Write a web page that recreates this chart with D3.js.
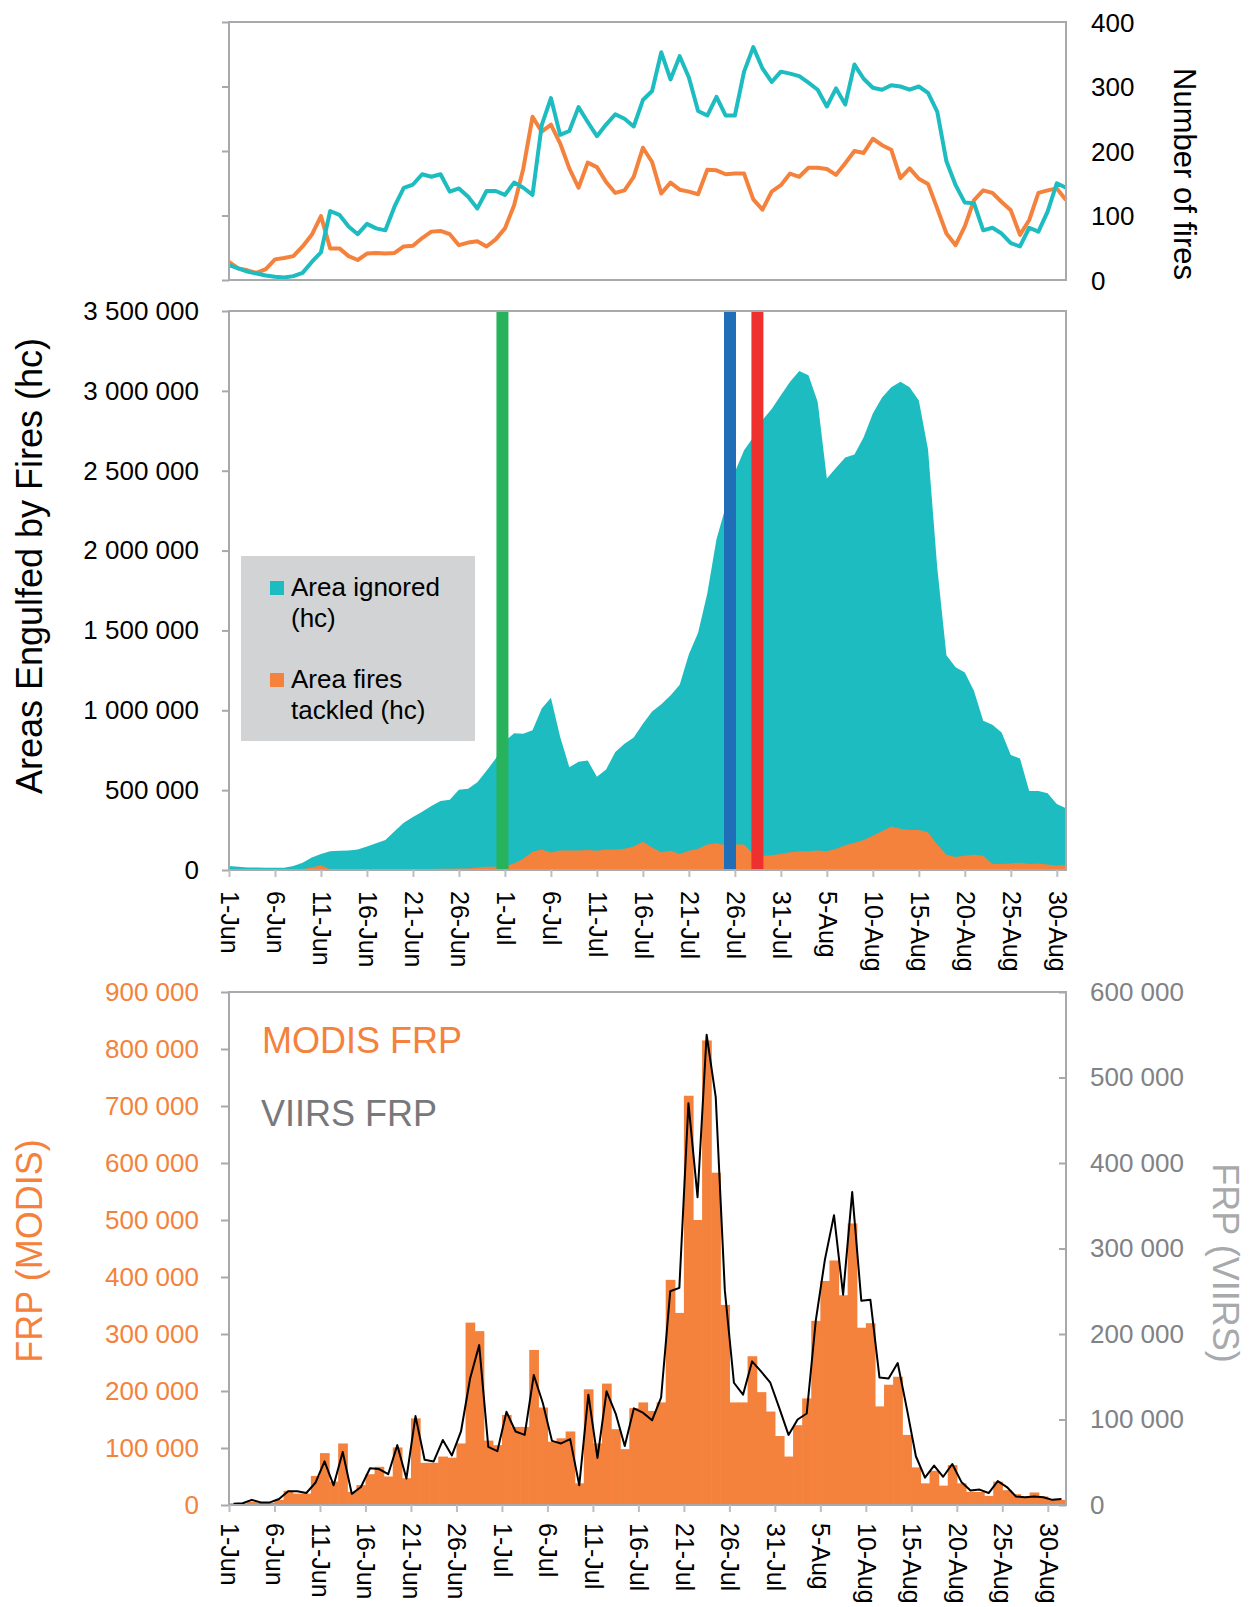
<!DOCTYPE html>
<html>
<head>
<meta charset="utf-8">
<script src="https://cdn.jsdelivr.net/npm/d3@7"></script>
<style>
  body { margin: 0; background: #fff; }
  text { font-family: Arial, "Liberation Sans", sans-serif; }
</style>
</head>
<body>
<svg id="chart" width="1252" height="1607"></svg>
<script>
// ---- data (one value per day, 1-Jun .. 31-Aug) ----
var days = d3.timeDays(new Date(2021, 5, 1), new Date(2021, 8, 1));
var tickDays = d3.range(0, 91, 5);
var tickLabels = ["1-Jun","6-Jun","11-Jun","16-Jun","21-Jun","26-Jun","1-Jul","6-Jul","11-Jul","16-Jul",
  "21-Jul","26-Jul","31-Jul","5-Aug","10-Aug","15-Aug","20-Aug","25-Aug","30-Aug"];

// number of fires
var firesIgnored = [23,18,13,10,7,5,4,6,11,28,43,107,101,83,71,87,80,77,114,143,148,164,160,164,137,142,129,111,138,138,
  132,151,143,132,240,282,225,231,268,245,223,241,257,250,238,279,293,353,311,347,314,262,255,284,255,255,323,361,328,307,
  323,320,316,306,295,269,297,272,334,312,298,295,302,300,295,300,290,261,184,147,120,119,77,81,72,57,52,81,75,106,150,143];
var firesTackled = [28,18,15,11,17,32,34,37,52,70,99,49,49,37,31,41,42,41,42,52,53,65,75,76,71,54,58,60,52,63,
  80,116,173,253,230,241,212,173,143,182,175,152,135,139,160,205,183,134,151,140,137,133,171,170,164,165,165,125,109,137,
  147,165,160,174,174,172,163,181,200,197,219,209,202,158,173,157,149,111,72,54,83,124,139,135,121,108,70,93,135,139,142,124];

// area engulfed, thousands of hc
var areaIgnoredK = [25,20,16,16,14,14,14,25,46,79,100,117,120,122,128,147,168,188,242,296,332,364,400,432,440,503,508,549,622,698,
  807,856,853,875,1011,1079,834,644,677,685,584,630,739,790,830,916,992,1038,1092,1160,1351,1486,1731,2071,2274,2492,2628,2709,2818,2886,
  2973,3057,3125,3098,2932,2451,2519,2582,2601,2709,2859,2959,3022,3057,3022,2940,2633,1894,1345,1269,1236,1120,935,910,861,720,698,495,495,481,413,386];
var areaTackledK = [0,0,0,0,0,0,0,0,5,15,30,5,2,2,2,2,2,3,4,5,5,6,7,8,8,9,10,15,20,20,
  25,40,70,114,128,109,122,122,122,125,120,128,128,133,147,177,141,109,120,100,120,133,160,168,155,160,160,100,87,92,
  100,111,117,117,122,117,133,155,171,188,215,242,272,258,250,250,236,160,95,82,90,95,90,38,38,41,46,38,41,35,27,33];

// marker lines (day index)
var markerDays = [29.73, 54.47, 57.45];
var markerColors = ["#28b25c", "#1f6eb7", "#ee312f"];

// fire radiative power, thousands
var modisK = [3,3,6,4,4,9,25,20,20,51,91,41,108,23,35,54,67,50,101,47,152,74,74,85,83,108,320,305,113,105,
  158,137,137,272,171,111,117,129,38,203,108,213,133,98,170,180,165,180,395,337,718,500,815,583,351,180,180,261,198,164,
  121,85,140,187,323,393,429,368,494,311,319,173,211,225,123,66,38,60,34,70,38,23,23,16,41,26,19,13,22,15,9,9];
var viirsK = [1.5,2,6,3,3,7,16,16,14,26,51,23,62,13,21,43,42,36,70,31,104,53,51,76,58,86,148,187,68,63,
  109,86,82,152,119,75,72,77,23,129,55,133,107,69,113,108,99,126,250,254,470,360,550,477,251,143,129,168,156,143,
  113,82,100,107,216,287,339,246,366,239,240,149,148,166,113,57,32,46,33,48,27,17,18,14,28,21,10,9,10,9,6,7];

// ---- layout ----
var L = 229, R = 1066;
var TEAL = "#1dbcc1", ORANGE = "#f4823c", FRAME = "#a7a9ac", TICK = "#bcbec0";
var fmt = d3.formatLocale({decimal: ".", thousands: " ", grouping: [3], currency: ["", ""]}).format(",");

var svg = d3.select("#chart");

function frame(top, bottom) {
  svg.append("rect")
    .attr("x", L).attr("y", top)
    .attr("width", R - L).attr("height", bottom - top)
    .attr("fill", "none").attr("stroke", FRAME).attr("stroke-width", 2);
}

function styleAxis(g, size, color) {
  g.attr("font-family", null).attr("font-size", null);
  g.select(".domain").remove();
  g.selectAll("line").attr("stroke", FRAME).attr("stroke-width", 2);
  g.selectAll("text").attr("font-size", size).attr("fill", color);
}

function dateAxis(g, scale, pos, gap) {
  var ax = svg.append("g").attr("transform", "translate(0," + pos + ")")
    .call(d3.axisBottom(scale).tickValues(tickDays).tickSize(7)
      .tickFormat(function(d, i) { return tickLabels[i]; }));
  styleAxis(ax, 25, "#000");
  ax.selectAll("line").attr("stroke", TICK);
  ax.selectAll("text")
    .attr("transform", "rotate(90)")
    .attr("x", gap).attr("y", 0).attr("dy", "0.35em")
    .attr("text-anchor", "start");
}

// ---- top panel: number of fires ----
var xDay = d3.scaleLinear().domain([0, days.length - 1]).range([L, R]);
var yFires = d3.scaleLinear().domain([0, 400]).range([280, 22]);

var gl = svg.append("g").attr("transform", "translate(" + L + ",0)")
  .call(d3.axisLeft(yFires).tickValues([0,100,200,300,400]).tickSize(7).tickFormat(""));
styleAxis(gl, 26, "#000");

var gr = svg.append("g").attr("transform", "translate(" + R + ",0)")
  .call(d3.axisRight(yFires).tickValues([0,100,200,300,400]).tickSize(0).tickPadding(25));
styleAxis(gr, 26, "#000");
gr.selectAll("text").attr("dy", "0.35em");

var fireLine = d3.line().x(function(d, i) { return xDay(i); }).y(function(d) { return yFires(d); });
svg.append("path").datum(firesTackled).attr("d", fireLine)
  .attr("fill", "none").attr("stroke", ORANGE).attr("stroke-width", 4).attr("stroke-linejoin", "round");
svg.append("path").datum(firesIgnored).attr("d", fireLine)
  .attr("fill", "none").attr("stroke", TEAL).attr("stroke-width", 4).attr("stroke-linejoin", "round");
frame(22, 280);

svg.append("text").attr("transform", "translate(1185,174) rotate(90)")
  .attr("text-anchor", "middle").attr("dy", "0.35em").attr("font-size", 31)
  .text("Number of fires");

// ---- middle panel: area engulfed ----
var yArea = d3.scaleLinear().domain([0, 3500]).range([870, 311]);

var ga = svg.append("g").attr("transform", "translate(" + L + ",0)")
  .call(d3.axisLeft(yArea).tickValues(d3.range(0, 3501, 500)).tickSize(7).tickPadding(23)
    .tickFormat(function(d) { return fmt(d * 1000); }));
styleAxis(ga, 26, "#000");

var area = d3.area().x(function(d, i) { return xDay(i); }).y0(yArea(0)).y1(function(d) { return yArea(d); });
svg.append("path").datum(areaIgnoredK).attr("d", area).attr("fill", TEAL);
svg.append("path").datum(areaTackledK).attr("d", area).attr("fill", ORANGE);

svg.selectAll(".marker").data(markerDays).enter().append("rect")
  .attr("class", "marker")
  .attr("x", function(d) { return xDay(d) - 6; })
  .attr("y", yArea(3500)).attr("width", 12).attr("height", yArea(0) - yArea(3500))
  .attr("fill", function(d, i) { return markerColors[i]; });

frame(311, 870);
dateAxis(svg, xDay, 870, 21);

svg.append("text").attr("transform", "translate(29,566) rotate(-90)")
  .attr("text-anchor", "middle").attr("dy", "0.35em").attr("font-size", 36)
  .text("Areas Engulfed by Fires (hc)");

// legend
var legend = svg.append("g");
legend.append("rect").attr("x", 241).attr("y", 556).attr("width", 234).attr("height", 185).attr("fill", "#d1d3d4");
var legendItems = [
  {color: TEAL, lines: ["Area ignored", "(hc)"], y: 596},
  {color: ORANGE, lines: ["Area fires", "tackled (hc)"], y: 688}
];
legendItems.forEach(function(it) {
  legend.append("rect").attr("x", 270).attr("y", it.y - 15).attr("width", 14).attr("height", 14).attr("fill", it.color);
  it.lines.forEach(function(s, j) {
    legend.append("text").attr("x", 291).attr("y", it.y + j * 31).attr("font-size", 26).text(s);
  });
});

// ---- bottom panel: FRP ----
var xBand = d3.scaleBand().domain(d3.range(days.length)).range([L, R]).padding(0);
var xEdge = d3.scaleLinear().domain([0, days.length]).range([L, R]);
var yModis = d3.scaleLinear().domain([0, 900]).range([1505, 992]);
var yViirs = d3.scaleLinear().domain([0, 600]).range([1505, 992]);

svg.selectAll(".bar").data(modisK).enter().append("rect")
  .attr("class", "bar")
  .attr("x", function(d, i) { return xBand(i); })
  .attr("width", xBand.bandwidth() + 0.6)
  .attr("y", function(d) { return yModis(d); })
  .attr("height", function(d) { return yModis(0) - yModis(d); })
  .attr("fill", ORANGE);

svg.append("path").datum(viirsK)
  .attr("d", d3.line().x(function(d, i) { return xBand(i) + xBand.bandwidth() / 2; })
    .y(function(d) { return yViirs(d); }))
  .attr("fill", "none").attr("stroke", "#000").attr("stroke-width", 2).attr("stroke-linejoin", "round");

frame(992, 1505);

var gm = svg.append("g").attr("transform", "translate(" + L + ",0)")
  .call(d3.axisLeft(yModis).tickValues(d3.range(0, 901, 100)).tickSize(8).tickPadding(22)
    .tickFormat(function(d) { return fmt(d * 1000); }));
styleAxis(gm, 26, ORANGE);

var gv = svg.append("g").attr("transform", "translate(" + R + ",0)")
  .call(d3.axisRight(yViirs).tickValues(d3.range(0, 601, 100)).tickSize(-7).tickPadding(24)
    .tickFormat(function(d) { return fmt(d * 1000); }));
styleAxis(gv, 26, "#808285");

dateAxis(svg, xEdge, 1505, 18);

svg.append("text").attr("x", 262).attr("y", 1053).attr("font-size", 36).attr("fill", ORANGE).text("MODIS FRP");
svg.append("text").attr("x", 261).attr("y", 1126).attr("font-size", 36).attr("fill", "#77787b").text("VIIRS FRP");

svg.append("text").attr("transform", "translate(29,1251) rotate(-90)")
  .attr("text-anchor", "middle").attr("dy", "0.35em").attr("font-size", 36).attr("fill", ORANGE)
  .text("FRP (MODIS)");
svg.append("text").attr("transform", "translate(1226,1263) rotate(90)")
  .attr("text-anchor", "middle").attr("dy", "0.35em").attr("font-size", 36).attr("fill", "#a7a9ac")
  .text("FRP (VIIRS)");
</script>
</body>
</html>
